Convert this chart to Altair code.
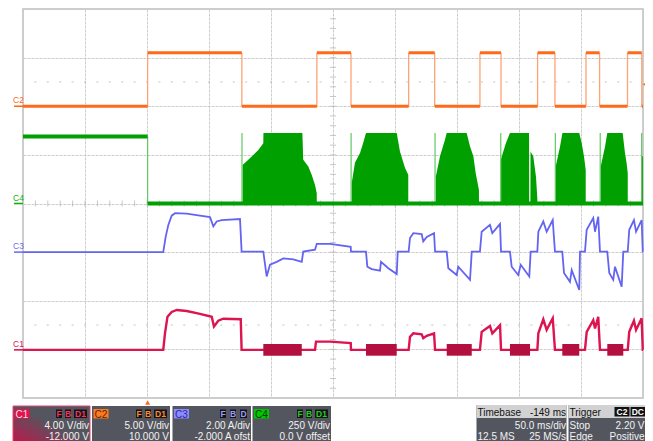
import altair as alt
import pandas as pd

FONT = "Liberation Sans"

# ---------------- screen grid (time in ms, 50 ms/div; level in screen divisions 0..8)
grid_times = [0, 50, 100, 150, 200, 250, 300, 350, 400, 450, 500]
grid_levels = [0, 1, 2, 3, 4, 5, 6, 7, 8]
minor_times = [10 * i for i in range(1, 50)]
minor_levels = [round(0.2 * i, 1) for i in range(1, 40)]
dotted_levels = [1.5, 6.5]

# ---------------- C2 (orange, logic signal)
c2_edge_times = [100.5, 176.5, 237.0, 264.5, 311.0, 332.0, 368.5, 385.5,
                 415.0, 429.0, 454.0, 465.0, 487.5, 499.0]
c2_levels = [6.0, 7.1, 6.0, 7.1, 6.0, 7.1, 6.0, 7.1, 6.0, 7.1, 6.0, 7.1, 6.0, 7.1, 6.0]

# ---------------- C4 (green)
c4_edge_times = [100.5]
c4_levels = [5.38, 4.0]
c4_burst_starts = [176.6, 264.6, 332.3, 385.3, 429.3, 465.5, 498.9]
c4_burst_peak = 5.45
c4_bursts = [
    ([177.1, 181.7, 185.7, 189.8, 193.8, 193.9, 225.3, 226.0, 230.1, 232.8, 235.5, 236.9],
     [4.79, 4.90, 5.00, 5.10, 5.24, 5.45, 5.45, 4.90, 4.76, 4.59, 4.38, 4.21]),
    ([265.1, 267.7, 271.8, 274.4, 276.6, 301.4, 304.0, 308.1, 310.7],
     [4.42, 4.84, 5.04, 5.25, 5.45, 5.45, 5.07, 4.73, 4.59]),
    ([332.9, 336.3, 340.3, 341.7, 357.8, 360.5, 363.2, 365.1, 367.7],
     [4.55, 4.97, 5.31, 5.45, 5.45, 5.17, 4.97, 4.62, 4.28]),
    ([385.3, 389.4, 392.7, 408.1, 408.2, 409.2, 409.3, 411.5, 413.7, 414.8],
     [4.90, 5.24, 5.45, 5.45, 4.0, 4.0, 5.07, 4.97, 4.55, 4.10]),
    ([429.6, 433.1, 435.0, 448.6, 450.6, 452.4, 453.8],
     [4.76, 5.17, 5.45, 5.45, 5.24, 4.97, 4.69]),
    ([465.9, 469.4, 471.2, 483.6, 485.5, 486.8, 487.7],
     [4.76, 5.17, 5.45, 5.45, 5.03, 4.83, 4.62]),
    ([499.1, 500.0],
     [4.97, 4.97]),
]

# ---------------- C3 (blue)
c3_t = [0, 113.1, 115.1, 117.2, 119.9, 122.6, 132.0, 142.7, 150.8, 153.5, 156.2, 160.2, 175.0,
        176.3, 193.8, 196.5, 199.2, 204.6, 209.9, 218.0, 224.8, 226.0, 235.5, 236.9, 247.6,
        264.3, 264.5, 276.6, 277.7, 281.2, 287.9, 288.7, 294.6, 301.4, 302.2, 311.0, 312.1,
        314.8, 321.5, 322.8, 325.6, 331.5, 332.3, 341.7, 343.0, 349.8, 351.0, 360.5, 361.9,
        368.5, 369.9, 376.6, 378.5, 384.7, 385.5, 392.7, 394.1, 399.4, 401.4, 408.3, 409.4,
        414.8, 415.6, 419.6, 422.3, 427.2, 429.0, 434.9, 436.3, 441.1, 442.5, 448.6, 449.2,
        453.2, 454.6, 459.9, 461.3, 463.9, 465.3, 471.2, 472.8, 476.0, 477.4, 482.8, 484.1,
        487.7, 488.9, 492.7, 494.4, 498.9, 499.8, 500.0]
c3_v = [3.00, 3.00, 3.32, 3.56, 3.75, 3.80, 3.79, 3.75, 3.72, 3.53, 3.63, 3.66, 3.68,
        3.01, 3.01, 2.50, 2.74, 2.80, 2.87, 2.85, 2.80, 3.01, 3.05, 3.17, 3.17,
        3.11, 3.01, 3.01, 2.70, 2.65, 2.62, 2.80, 2.67, 2.55, 3.01, 3.01, 3.29,
        3.39, 3.37, 3.22, 3.31, 3.39, 3.01, 3.01, 2.67, 2.53, 2.70, 2.43, 3.01,
        3.01, 3.42, 3.56, 3.39, 3.58, 3.01, 3.01, 2.70, 2.53, 2.74, 2.50, 3.01,
        3.01, 3.42, 3.63, 3.42, 3.66, 3.01, 3.01, 2.57, 2.39, 2.63, 2.22, 3.01,
        3.01, 3.46, 3.70, 3.42, 3.73, 3.01, 3.01, 2.57, 2.43, 2.70, 2.29, 3.01,
        3.01, 3.46, 3.66, 3.42, 3.66, 3.01, 3.01]

# ---------------- C1 (crimson)
c1_t = [0, 113.1, 114.5, 116.5, 119.9, 124.0, 132.0, 142.7, 152.2, 154.0, 157.5, 161.5, 175.6,
        176.3, 235.5, 236.3, 247.6, 264.3, 264.5, 311.0, 312.1, 314.8, 321.5, 322.8, 325.6,
        331.5, 332.3, 368.5, 369.9, 376.6, 378.5, 384.7, 385.5, 414.8, 415.6, 419.6, 422.3,
        427.2, 429.0, 453.2, 454.6, 459.9, 461.3, 463.9, 465.3, 487.7, 488.9, 492.7, 494.4,
        498.9, 499.8, 500.0]
c1_v = [0.99, 0.99, 1.33, 1.67, 1.77, 1.81, 1.79, 1.73, 1.67, 1.47, 1.59, 1.63, 1.62,
        0.99, 0.99, 1.16, 1.16, 1.13, 0.99, 0.99, 1.26, 1.33, 1.31, 1.23, 1.28,
        1.33, 0.99, 0.99, 1.36, 1.48, 1.33, 1.50, 0.99, 0.99, 1.33, 1.62, 1.40,
        1.64, 0.99, 0.99, 1.36, 1.60, 1.43, 1.67, 0.99, 0.99, 1.36, 1.59, 1.40,
        1.64, 0.99, 0.99]
c1_band_start = [193.8, 276.6, 341.7, 392.7, 434.9, 471.2]
c1_band_end = [224.8, 301.4, 361.9, 408.9, 448.6, 484.1]
c1_band_low = 0.87
c1_band_high = 1.11

# ---------------- channel markers, trigger
channel_names = ["C2", "C4", "C3", "C1"]
channel_ground = [6.0, 4.0, 3.0, 0.99]
trigger_time = 100.5
trigger_level = 6.45

# ---------------- info panel texts
panel_channels = ["C1", "C2", "C3", "C4"]
panel_scale = ["4.00 V/div", "5.00 V/div", "2.00 A/div", "250 V/div"]
panel_offset = ["-12.000 V", "10.000 V", "-2.000 A ofst", "0.0 V offset"]
panel_flags = [["F", "B", "D1"], ["F", "B", "D1"], ["F", "B", "D"], ["F", "B", "D1"]]
timebase_texts = ["Timebase", "-149 ms", "50.0 ms/div", "12.5 MS", "25 MS/s"]
trigger_texts = ["Trigger", "C2", "DC", "Stop", "2.20 V", "Edge", "Positive"]

# ================= styles
ORANGE, ORANGE_EDGE = "#FF6A1A", "#FFA274"
GREEN, GREEN_EDGE = "#00A000", "#62C862"
BLUE = "#6464F2"
CRIMSON, CRIMSON_BAND = "#DC1450", "#B3103F"
ch_color = {"C1": CRIMSON, "C2": ORANGE, "C3": "#7070F5", "C4": "#10B010"}
chip_bg = {"C1": "#E0144C", "C2": "#FF7A22", "C3": "#8C8CFF", "C4": "#00C800"}
chip_fg = {"C1": "#FFD8E2", "C2": "#5A2800", "C3": "#2A2AA0", "C4": "#003800"}
flag_fg = {"C1": "#FF3060", "C2": "#FF8A30", "C3": "#9A9AFF", "C4": "#22D022"}

xs = alt.Scale(domain=[0, 500], nice=False, zero=False)
ys = alt.Scale(domain=[0, 8], nice=False, zero=False)
xaxis = alt.Axis(values=grid_times, grid=True, labels=False, ticks=False, domain=False,
                 title=None, gridColor="#cdcdcd", gridDash=[3, 1], gridWidth=1)
yaxis = alt.Axis(values=grid_levels, grid=True, labels=False, ticks=False, domain=False,
                 title=None, gridColor="#cdcdcd", gridDash=[3, 1], gridWidth=1)


def X(f):
    return alt.X(f, type="quantitative", scale=xs, axis=xaxis)


def Y(f):
    return alt.Y(f, type="quantitative", scale=ys, axis=yaxis)


layers = []

# grid carrier
layers.append(alt.Chart(pd.DataFrame({"t": [0, 500], "v": [0, 8]}))
              .mark_point(opacity=0).encode(x=X("t"), y=Y("v")))

# dotted half-screen lines
dots = pd.DataFrame([(t, v) for v in dotted_levels for t in minor_times], columns=["t", "v"])
layers.append(alt.Chart(dots).mark_tick(orient="horizontal", size=2, thickness=1, color="#a9a9a9")
              .encode(x=X("t"), y=Y("v")))
# center axis ticks
hticks = pd.DataFrame({"t": minor_times, "v": [4.0] * len(minor_times)})
layers.append(alt.Chart(hticks).mark_tick(orient="vertical", size=6, thickness=1, color="#b0b0b0")
              .encode(x=X("t"), y=Y("v")))
vticks = pd.DataFrame({"t": [250.0] * len(minor_levels), "v": minor_levels})
layers.append(alt.Chart(vticks).mark_tick(orient="horizontal", size=6, thickness=1, color="#b0b0b0")
              .encode(x=X("t"), y=Y("v")))

# ---- C4
rows = []
for k, (tt, vv) in enumerate(c4_bursts):
    for t, v in zip(tt, vv):
        rows.append({"b": k, "t": t, "v": v, "base": 4.0})
layers.append(alt.Chart(pd.DataFrame(rows)).mark_area(color=GREEN, interpolate="linear")
              .encode(x=X("t"), y=Y("v"), y2="base", detail="b:N"))
vlines = pd.DataFrame({"t": c4_burst_starts, "lo": [4.0] * len(c4_burst_starts),
                       "hi": [c4_burst_peak] * len(c4_burst_starts)})
layers.append(alt.Chart(vlines).mark_rule(color=GREEN_EDGE, strokeWidth=1.2)
              .encode(x=X("t"), y=Y("lo"), y2="hi"))
c4_edges = pd.DataFrame({"t": c4_edge_times, "lo": [min(c4_levels)], "hi": [max(c4_levels)]})
layers.append(alt.Chart(c4_edges).mark_rule(color=GREEN_EDGE, strokeWidth=1.2)
              .encode(x=X("t"), y=Y("lo"), y2="hi"))
c4_segs = pd.DataFrame({"t": [0] + c4_edge_times, "t2": c4_edge_times + [500], "v": c4_levels})
layers.append(alt.Chart(c4_segs).mark_rule(color=GREEN, strokeWidth=4)
              .encode(x=X("t"), x2="t2", y=Y("v")))

# ---- C2
c2_segs = pd.DataFrame({"t": [0] + c2_edge_times, "t2": c2_edge_times + [500], "v": c2_levels})
c2_edges = pd.DataFrame({"t": c2_edge_times, "lo": [min(c2_levels)] * len(c2_edge_times),
                         "hi": [max(c2_levels)] * len(c2_edge_times)})
layers.append(alt.Chart(c2_edges).mark_rule(color=ORANGE_EDGE, strokeWidth=1.3)
              .encode(x=X("t"), y=Y("lo"), y2="hi"))
layers.append(alt.Chart(c2_segs).mark_rule(color=ORANGE, strokeWidth=3)
              .encode(x=X("t"), x2="t2", y=Y("v")))

# ---- C3
c3 = pd.DataFrame({"i": range(len(c3_t)), "t": c3_t, "v": c3_v})
layers.append(alt.Chart(c3).mark_line(color=BLUE, strokeWidth=1.8)
              .encode(x=X("t"), y=Y("v"), order="i:Q"))

# ---- C1
c1 = pd.DataFrame({"i": range(len(c1_t)), "t": c1_t, "v": c1_v})
layers.append(alt.Chart(c1).mark_line(color=CRIMSON, strokeWidth=2.4)
              .encode(x=X("t"), y=Y("v"), order="i:Q"))
bands = pd.DataFrame({"t": c1_band_start, "t2": c1_band_end,
                      "lo": [c1_band_low] * len(c1_band_start), "hi": [c1_band_high] * len(c1_band_start)})
layers.append(alt.Chart(bands).mark_rect(color=CRIMSON_BAND)
              .encode(x=X("t"), x2="t2", y=Y("lo"), y2="hi"))

# ---- channel ground markers
marks = pd.DataFrame({"name": channel_names, "v": channel_ground,
                      "c": [ch_color[n] for n in channel_names]})
layers.append(alt.Chart(marks).mark_rule(strokeWidth=1.6)
              .encode(y=Y("v"), x=alt.value(-9), x2=alt.value(0), color=alt.Color("c:N", scale=None)))
layers.append(alt.Chart(marks).mark_text(align="left", baseline="alphabetic", fontSize=8.5, dy=-3, font=FONT)
              .encode(y=Y("v"), x=alt.value(-10), text="name:N", color=alt.Color("c:N", scale=None)))

# ---- trigger markers
layers.append(alt.Chart(pd.DataFrame({"t": [500.0], "v": [trigger_level]}))
              .mark_point(shape="triangle-left", filled=True, size=28, color=ORANGE, opacity=1, xOffset=2)
              .encode(x=X("t"), y=Y("v")))
layers.append(alt.Chart(pd.DataFrame({"t": [trigger_time]}))
              .mark_point(shape="triangle-up", filled=True, size=26, color=ORANGE, opacity=1)
              .encode(x=X("t"), y=alt.value(393.5)))

# ================= info panel (positions in page pixels)
OX, OY = 23, 9
one = pd.DataFrame({"k": [0]})


def rect(x1, y1, x2, y2, color, **kw):
    return (alt.Chart(one).mark_rect(color=color, **kw)
            .encode(x=alt.value(x1 - OX), x2=alt.value(x2 - OX), y=alt.value(y1 - OY), y2=alt.value(y2 - OY)))


def text(x, y, s, color, size=10, align="left", weight="normal"):
    return (alt.Chart(one).mark_text(text=s, color=color, fontSize=size, align=align, baseline="alphabetic",
                                     fontWeight=weight, font=FONT)
            .encode(x=alt.value(x - OX), y=alt.value(y - OY)))


BODY = "#53565E"
HEAD = "#D2D2D2"
ROW1, ROW2 = 428.8, 439.6
box_left = [13, 92, 172.5, 252.5]
box_right = [90, 170, 251, 331]
grad = alt.LinearGradient(gradient="linear",
                          stops=[alt.GradientStop(color=BODY, offset=0),
                                 alt.GradientStop(color=BODY, offset=0.45),
                                 alt.GradientStop(color="#C8124A", offset=1)],
                          x1=1, y1=0, x2=0, y2=1)
for i, ch in enumerate(panel_channels):
    L, R = box_left[i], box_right[i]
    if i == 0:
        layers.append(rect(L, 406, R, 446, grad, stroke="#E8456F", strokeWidth=1))
    else:
        layers.append(rect(L, 406, R, 446, BODY))
    layers.append(rect(L + 1.5, 409, L + 16.5, 418.5, chip_bg[ch]))
    layers.append(text(L + 2.5, 417.5, ch, chip_fg[ch], size=10))
    flags = panel_flags[i]
    spans = [(34, 28), (25, 19), (16, 3)] if flags[-1] == "D1" else [(31, 25), (21, 15), (11, 4)]
    for f, (a, b) in zip(flags, spans):
        layers.append(rect(R - a, 409.5, R - b, 418, "#141414"))
        layers.append(text((2 * R - a - b) / 2, 417, f, flag_fg[ch], size=8.5, align="center", weight="bold"))
    layers.append(text(R - 1, ROW1, panel_scale[i], "#F2F2F2", size=10, align="right"))
    layers.append(text(R - 1, ROW2, panel_offset[i], "#F2F2F2", size=10, align="right"))

# timebase box
TL, TR = 476.5, 566.5
layers.append(rect(TL, 405, TR, 446, BODY))
layers.append(rect(TL, 405, TR, 418, HEAD))
layers.append(text(TL + 1, 415.5, timebase_texts[0], "#111111", size=10))
layers.append(text(TR - 0.5, 415.5, timebase_texts[1], "#111111", size=10, align="right"))
layers.append(text(TR - 0.5, ROW1, timebase_texts[2], "#F2F2F2", size=10, align="right"))
layers.append(text(TL + 1, ROW2, timebase_texts[3], "#F2F2F2", size=10))
layers.append(text(TR - 0.5, ROW2, timebase_texts[4], "#F2F2F2", size=10, align="right"))

# trigger box
GL, GR = 568.5, 647
layers.append(rect(GL, 405, GR, 446, BODY))
layers.append(rect(GL, 405, GR, 418, HEAD))
layers.append(text(GL + 1, 415.5, trigger_texts[0], "#111111", size=10))
layers.append(rect(614.5, 407, 629.5, 416.5, "#111111"))
layers.append(rect(630.5, 407, 645, 416.5, "#111111"))
layers.append(text(622, 415, trigger_texts[1], "#FFFFFF", size=8.5, align="center", weight="bold"))
layers.append(text(637.8, 415, trigger_texts[2], "#FFFFFF", size=8.5, align="center", weight="bold"))
layers.append(text(GL + 1, ROW1, trigger_texts[3], "#F2F2F2", size=10))
layers.append(text(GR - 2.5, ROW1, trigger_texts[4], "#F2F2F2", size=10, align="right"))
layers.append(text(GL + 1, ROW2, trigger_texts[5], "#F2F2F2", size=10))
layers.append(text(GR - 2.5, ROW2, trigger_texts[6], "#F2F2F2", size=10, align="right"))

chart = (alt.layer(*layers)
         .properties(width=620, height=389,
                     padding={"left": 15, "top": 1, "right": 2, "bottom": 44},
                     autosize=alt.AutoSizeParams(type="none"),
                     background="white")
         .configure_view(stroke="#bdbdbd", strokeWidth=1.5))

chart.save("out.html", embed_options={"renderer": "svg", "actions": False})
